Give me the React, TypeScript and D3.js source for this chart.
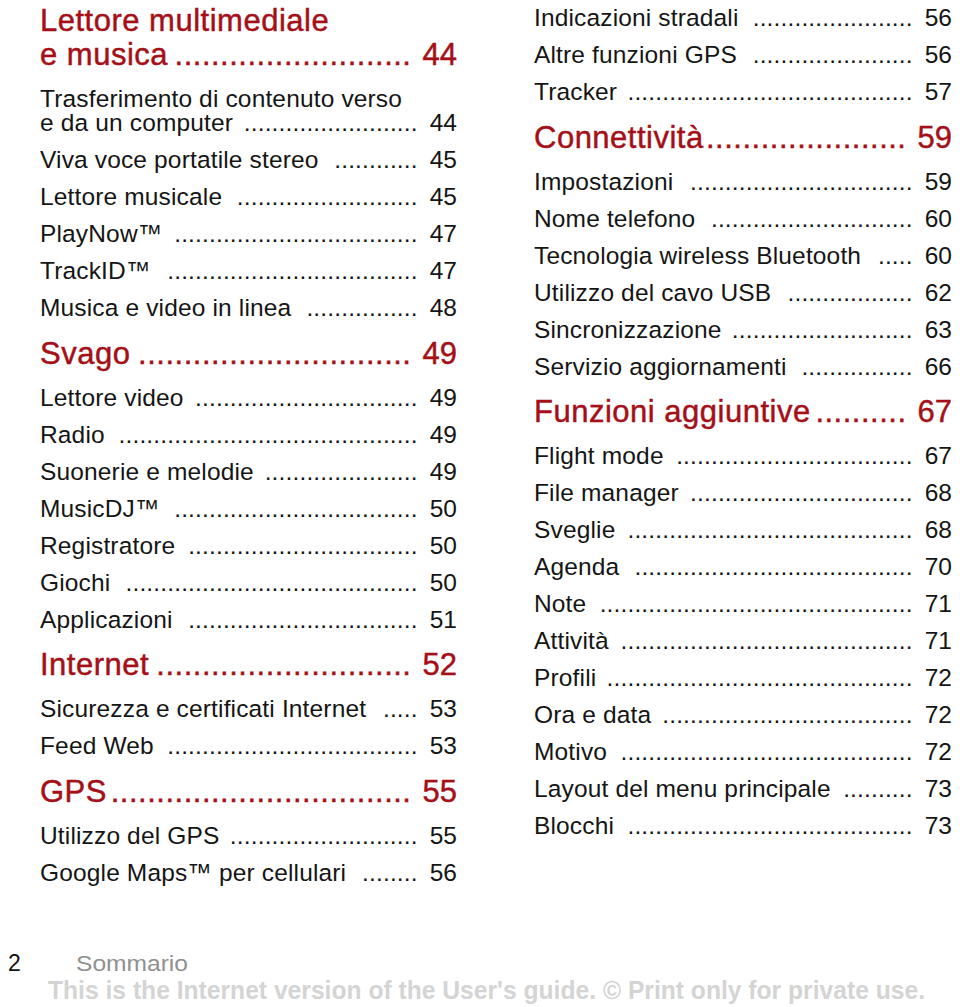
import React, { useEffect, useRef } from "react";
import * as d3 from "d3";

const leftLabels = [
  "Lettore multimediale\ne musica",
  "Trasferimento di contenuto verso\ne da un computer",
  "Viva voce portatile stereo",
  "Lettore musicale",
  "PlayNow™",
  "TrackID™",
  "Musica e video in linea",
  "Svago",
  "Lettore video",
  "Radio",
  "Suonerie e melodie",
  "MusicDJ™",
  "Registratore",
  "Giochi",
  "Applicazioni",
  "Internet",
  "Sicurezza e certificati Internet",
  "Feed Web",
  "GPS",
  "Utilizzo del GPS",
  "Google Maps™ per cellulari",
];
const leftPages = [44, 44, 45, 45, 47, 47, 48, 49, 49, 49, 49, 50, 50, 50, 51, 52, 53, 53, 55, 55, 56];
const leftKinds = ["h", "e", "e", "e", "e", "e", "e", "h", "e", "e", "e", "e", "e", "e", "e", "h", "e", "e", "h", "e", "e"];

const rightLabels = [
  "Indicazioni stradali",
  "Altre funzioni GPS",
  "Tracker",
  "Connettività",
  "Impostazioni",
  "Nome telefono",
  "Tecnologia wireless Bluetooth",
  "Utilizzo del cavo USB",
  "Sincronizzazione",
  "Servizio aggiornamenti",
  "Funzioni aggiuntive",
  "Flight mode",
  "File manager",
  "Sveglie",
  "Agenda",
  "Note",
  "Attività",
  "Profili",
  "Ora e data",
  "Motivo",
  "Layout del menu principale",
  "Blocchi",
];
const rightPages = [56, 56, 57, 59, 59, 60, 60, 62, 63, 66, 67, 67, 68, 68, 70, 71, 71, 72, 72, 72, 73, 73];
const rightKinds = ["e", "e", "e", "h", "e", "e", "e", "e", "e", "e", "h", "e", "e", "e", "e", "e", "e", "e", "e", "e", "e", "e"];

const footerPage = "2";
const footerSection = "Sommario";
const footerNotice = "This is the Internet version of the User's guide. © Print only for private use.";

const RED = "#a40f18";
const INK = "#151515";
const FONT = "'Liberation Sans', Arial, Helvetica, sans-serif";

const style = {
  h: { size: 31, spacing: 0.5, color: RED, lineH: 34, stroke: 0.45, gapAfter: 0, gapBefore: 11 },
  e: { size: 24.5, spacing: 0.15, color: INK, lineH: 24, stroke: 0, gapAfter: 10, gapBefore: 12 },
} as const;

// vertical advance between consecutive items, keyed by previous+current kind
const advance: Record<string, number> = { ee: 37, eh: 47.5, he: 42, hh: 47 };

function layout(kinds: string[], labels: string[], start: number) {
  const ys: number[] = [];
  let y = start;
  kinds.forEach((k, i) => {
    if (i > 0) {
      const prevLines = labels[i - 1].split("\n").length;
      y += (prevLines - 1) * style[kinds[i - 1] as "h" | "e"].lineH;
      y += advance[kinds[i - 1] + k];
    }
    ys.push(y);
  });
  return ys;
}

export default function App() {
  const ref = useRef<SVGSVGElement>(null);

  useEffect(() => {
    const svg = d3.select(ref.current);
    svg.selectAll("*").remove();
    svg.append("rect").attr("width", 960).attr("height", 1007).attr("fill", "#ffffff");

    const columns = [
      { labels: leftLabels, pages: leftPages, kinds: leftKinds, x0: 40, x1: 457, start: 31 },
      { labels: rightLabels, pages: rightPages, kinds: rightKinds, x0: 534, x1: 952, start: 26 },
    ];

    columns.forEach((col) => {
      const ys = layout(col.kinds, col.labels, col.start);
      const g = svg.append("g");
      col.labels.forEach((label, i) => {
        const st = style[col.kinds[i] as "h" | "e"];
        const lines = label.split("\n");
        const common = (sel: any) =>
          sel
            .attr("font-family", FONT)
            .attr("font-size", st.size)
            .attr("letter-spacing", st.spacing)
            .attr("fill", st.color)
            .attr("stroke", st.stroke ? st.color : "none")
            .attr("stroke-width", st.stroke);
        const lastY = ys[i] + (lines.length - 1) * st.lineH;

        // page number
        const num = g
          .append("text")
          .attr("x", col.x1)
          .attr("y", lastY)
          .attr("text-anchor", "end")
          .text(String(col.pages[i]));
        common(num);
        num.attr("letter-spacing", 0);
        const numW = (num.node() as SVGTextElement).getComputedTextLength();

        // label (all lines) + leader dots in one text element
        const t = g.append("text").attr("x", col.x0).attr("y", ys[i]);
        common(t);
        let lastEnd = col.x0;
        lines.forEach((ln, j) => {
          const ts = t
            .append("tspan")
            .attr("x", col.x0)
            .attr("y", ys[i] + j * st.lineH)
            .text(ln);
          lastEnd = col.x0 + (ts.node() as SVGTSpanElement).getComputedTextLength();
        });
        const dotEnd = col.x1 - numW - st.gapBefore;
        const probe = g.append("text").text("..........");
        common(probe);
        const dotW = (probe.node() as SVGTextElement).getComputedTextLength() / 10;
        probe.remove();
        const count = Math.max(0, Math.floor((dotEnd - (lastEnd + st.gapAfter)) / dotW));
        t.append("tspan")
          .attr("x", dotEnd - count * dotW)
          .attr("y", lastY)
          .text(".".repeat(count));
      });
    });

    svg
      .append("text")
      .attr("x", 8)
      .attr("y", 971)
      .attr("font-family", FONT)
      .attr("font-size", 23)
      .attr("fill", "#111")
      .text(footerPage);
    svg
      .append("text")
      .attr("x", 76)
      .attr("y", 971)
      .attr("font-family", FONT)
      .attr("font-size", 22.5)
      .attr("fill", "#909090")
      .attr("textLength", 112)
      .attr("lengthAdjust", "spacingAndGlyphs")
      .text(footerSection);
    svg
      .append("text")
      .attr("x", 48)
      .attr("y", 999)
      .attr("font-family", "'Liberation Sans Narrow', 'Liberation Sans', Arial, sans-serif")
      .attr("font-size", 25)
      .attr("font-weight", "bold")
      .attr("fill", "#d4d4d4")
      .attr("textLength", 877)
      .attr("lengthAdjust", "spacingAndGlyphs")
      .text(footerNotice);
  }, []);

  return (
    <svg
      ref={ref}
      width={960}
      height={1007}
      style={{ position: "absolute", left: 0, top: 0, display: "block" }}
    />
  );
}
